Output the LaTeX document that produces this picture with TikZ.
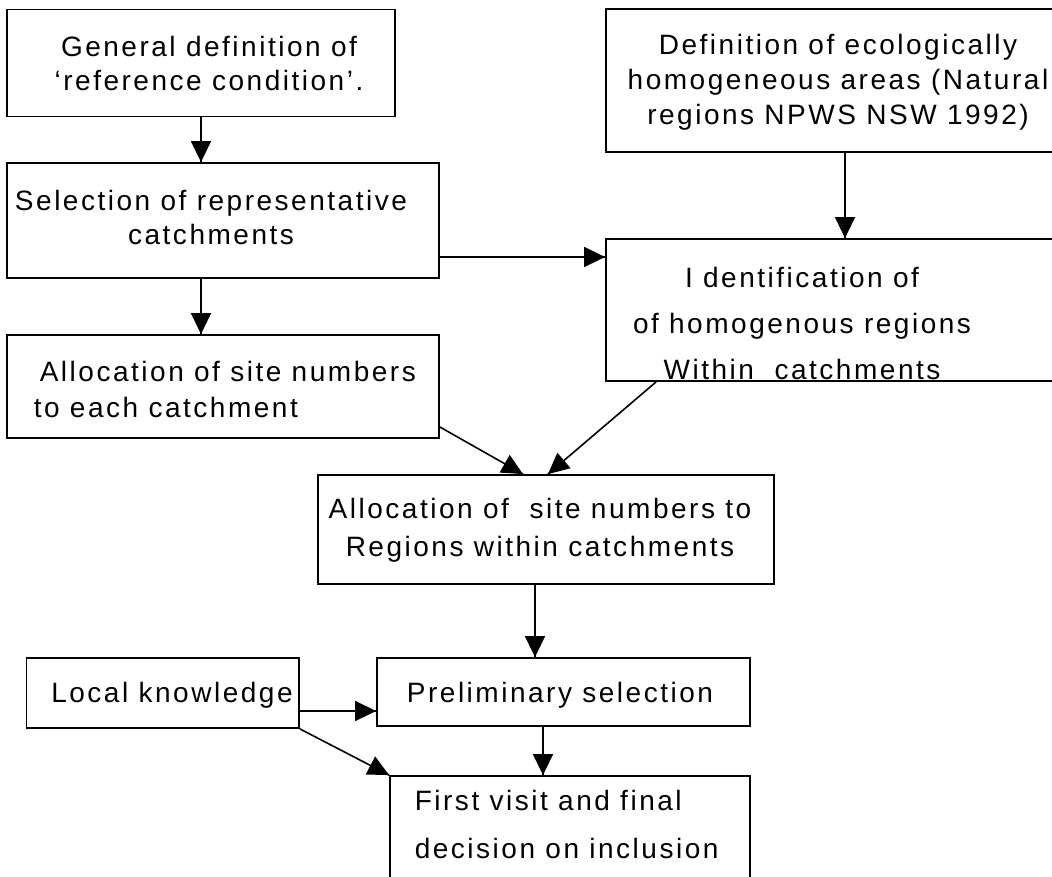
\documentclass[tikz,border=0pt]{standalone}
\usepackage{fontspec}
\setmainfont{Liberation Sans}[LetterSpace=9]
\usetikzlibrary{arrows.meta}
\usetikzlibrary{decorations.markings}
\tikzset{->/.style = {decoration={markings,
                                  mark=at position 1 with {\arrow{Triangle[length=21pt,width=20pt]}}},
                      postaction={decorate}}}
\tikzset{stage/.style = {draw, line width=1.8pt, inner sep=0pt},
         words/.style = {font=\fontsize{28pt}{34pt}\selectfont, inner sep=0pt}}
\begin{document}
\begin{tikzpicture}[x=1pt, y=-1pt, line width=1.6pt]
    \useasboundingbox (0, 0) rectangle (1052, 876);
    \clip (0, 0) rectangle (1052, 876);
    \node [stage, minimum width=388, minimum height=107] (gen) at (201, 63) {};
    \node [stage, minimum width=464, minimum height=143] (eco) at (838, 80.5) {};
    \node [stage, minimum width=432, minimum height=115] (sel) at (223, 220.5) {};
    \node [stage, minimum width=464, minimum height=142] (idf) at (838, 310) {};
    \node [stage, minimum width=432, minimum height=103] (alc) at (223, 386.5) {};
    \node [stage, minimum width=456, minimum height=109] (reg) at (546, 529.5) {};
    \node [stage, minimum width=272.5, minimum height=70] (loc) at (162.75, 693) {};
    \node [stage, minimum width=373, minimum height=68] (pre) at (563.5, 692) {};
    \node [stage, minimum width=360, minimum height=124] (fin) at (570, 838) {};
    \node [words, align=center] (gen-t) at (209, 63.5) {General definition of\\‘reference condition’.};
    \node [words, align=center] (eco-t) at (838, 82) {Definition of ecologically\\[1pt]homogeneous areas (Natural\\[1pt]regions NPWS NSW 1992)};
    \node [words, align=center] (sel-t) at (211, 217) {Selection of representative\\catchments};
    \node [words, align=center] (idf-t) at (802, 323) {I dentification of\\[12pt]of homogenous regions\\[12pt]Within~ catchments};
    \node [words, align=left, anchor=west] (alc-t) at (33, 389) {\hspace*{6pt}Allocation of site numbers\\[2pt]to each catchment};
    \node [words, align=center] (reg-t) at (540, 530) {Allocation of~ site numbers to\\[4pt]Regions within catchments};
    \node [words] (loc-t) at (172, 695) {Local knowledge};
    \node [words] (pre-t) at (560, 695) {Preliminary selection};
    \node [words, align=left, anchor=west] (fin-t) at (414, 824) {First visit and final\\[14pt]decision on inclusion};
    \draw [->] (gen.south) -- (gen.south |- sel.north);
    \draw [->] ([xshift=7pt]eco.south) -- ([xshift=7pt]idf.north);
    \draw [->] ([yshift=-36.5pt]sel.east) -- ([yshift=-36.5pt]sel.east -| idf.west);
    \draw [->] (sel.south -| gen) -- (alc.north -| gen);
    \draw [->] ([yshift=-40.5pt]alc.east) -- ([xshift=-23pt]reg.north);
    \draw [->] ([xshift=51pt]idf.south west) -- ([xshift=2pt]reg.north);
    \draw [->] ([xshift=-11pt]reg.south) -- ([xshift=-11pt]reg.south |- pre.north);
    \draw [->] ([yshift=-18pt]loc.east) -- ([yshift=-18pt]loc.east -| pre.west);
    \draw [->] ([xshift=-20.5pt]pre.south) -- ([xshift=-20.5pt]pre.south |- fin.north);
    \draw [->] (loc.south east) -- (fin.north west);
\end{tikzpicture}
\end{document}
